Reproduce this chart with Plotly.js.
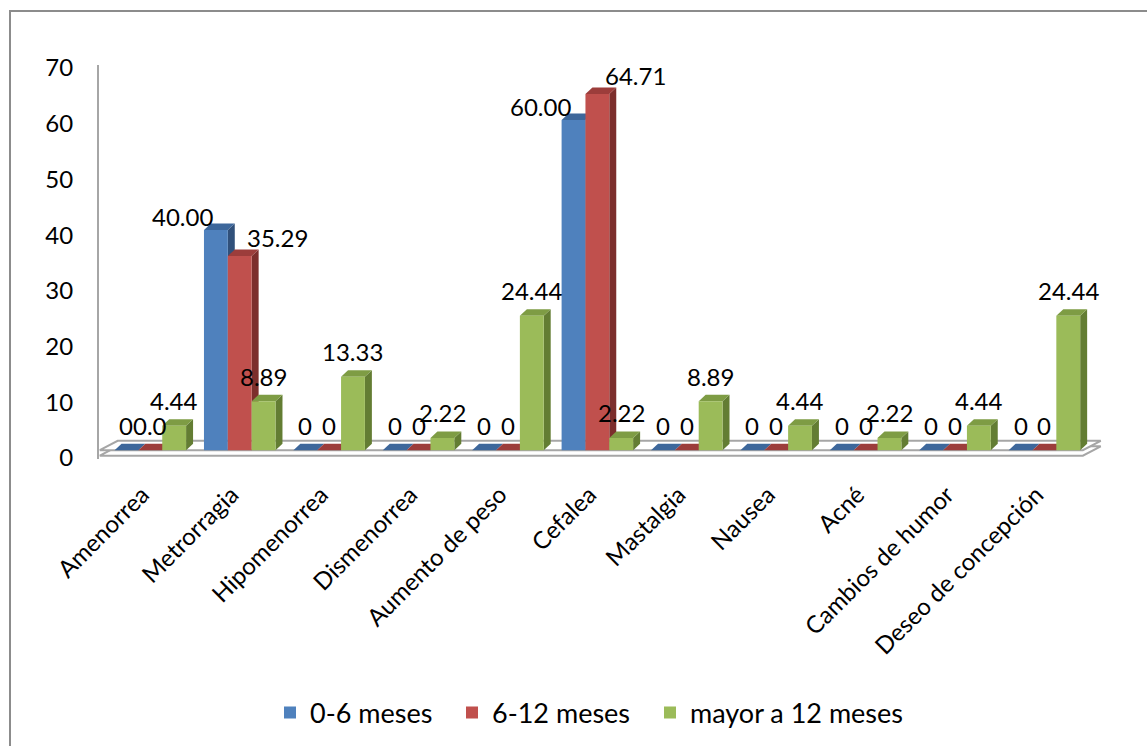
<!DOCTYPE html>
<html>
<head>
<meta charset="utf-8">
<script src="https://cdn.plot.ly/plotly-3.0.1.min.js"></script>
<style>
  html, body { margin: 0; padding: 0; background: #fff; }
  #wrap { position: relative; width: 1147px; height: 746px; overflow: hidden; }
  #chart { width: 1147px; height: 746px; }
  #frame { position: absolute; left: 9px; top: 10px; width: 1200px; height: 800px;
           border-left: 2px solid #8c8c8c; border-top: 2px solid #8c8c8c; pointer-events: none; }
</style>
</head>
<body>
<div id="wrap"><div id="chart"></div><div id="frame"></div></div>
<script>
// ---- data ----
const categories = ['Amenorrea', 'Metrorragia', 'Hipomenorrea', 'Dismenorrea', 'Aumento de peso',
  'Cefalea', 'Mastalgia', 'Nausea', 'Acné', 'Cambios de humor', 'Deseo de concepción'];
const seriesNames = ['0-6 meses', '6-12 meses', 'mayor a 12 meses'];
const meses0a6 = [0, 40.00, 0, 0, 0, 60.00, 0, 0, 0, 0, 0];
const meses6a12 = [0, 35.29, 0, 0, 0, 64.71, 0, 0, 0, 0, 0];
const mayor12 = [4.44, 8.89, 13.33, 2.22, 24.44, 2.22, 8.89, 4.44, 2.22, 4.44, 24.44];
const labels0a6 = ['0', '40.00', '0', '0', '0', '60.00', '0', '0', '0', '0', '0'];
const labels6a12 = ['0.0', '35.29', '0', '0', '0', '64.71', '0', '0', '0', '0', '0'];
const labelsMayor12 = ['4.44', '8.89', '13.33', '2.22', '24.44', '2.22', '8.89', '4.44', '2.22', '4.44', '24.44'];
const yTicks = [0, 10, 20, 30, 40, 50, 60, 70];

// ---- style ----
const frontColors = ['#4f81bd', '#c0504d', '#9bbb59'];
const topColors = ['#3d679b', '#9c3d3b', '#7e9c44'];
const sideColors = ['#30507a', '#7c2e2c', '#637d33'];
const FONT = 'Lato, Calibri, "Open Sans", sans-serif';
const FS = 24;
const bargap = 0.2;
const bw = (1 - bargap) / 3;
const dx = 0.078, dy = 1.18;   // depth of 3D bars (x in categories, y in value units)
const legendIds = ['legend', 'legend2', 'legend3'];
const legendSymbolX = [290, 472, 670];   // px centre of each legend swatch

const series = [meses0a6, meses6a12, mayor12];
const labels = [labels0a6, labels6a12, labelsMayor12];
const xIdx = categories.map((c, i) => i);

const traces = series.map((vals, k) => ({
  type: 'bar', x: xIdx, y: vals, name: seriesNames[k], legend: legendIds[k],
  marker: { color: frontColors[k], line: { width: 0 } },
  hoverinfo: 'skip'
}));
// helper trace to carry the tick-label axis
traces.push({ type: 'scatter', x: [], y: [], yaxis: 'y2', showlegend: false, hoverinfo: 'skip' });

// ---- 3D faces and floor (computed from data through axis coordinates) ----
const shapes = [];
const fl = { x0: -0.565, x1: 10.43, sx: 0.2, back: 1.7, thick: 1.0 };
const floorPath = (yo) =>
  `M${fl.x0},${yo} L${fl.x1},${yo} L${fl.x1 + fl.sx},${yo + fl.back} L${fl.x0 + fl.sx},${yo + fl.back} Z`;
shapes.push({ type: 'path', layer: 'below', xref: 'x', yref: 'y', path: floorPath(-fl.thick),
  fillcolor: '#ffffff', line: { color: '#a6a6a6', width: 2 } });
shapes.push({ type: 'path', layer: 'below', xref: 'x', yref: 'y', path: floorPath(0),
  fillcolor: '#ffffff', line: { color: '#a6a6a6', width: 2 } });

categories.forEach((c, i) => {
  series.forEach((vals, k) => {
    const v = vals[i];
    const xl = i + (k - 1) * bw - bw / 2;
    const xr = xl + bw;
    if (v > 0) {
      shapes.push({ type: 'path', layer: 'below', xref: 'x', yref: 'y',
        path: `M${xr},0 L${xr + dx},${dy} L${xr + dx},${v + dy} L${xr},${v} Z`,
        fillcolor: sideColors[k], line: { width: 0 } });
    }
    shapes.push({ type: 'path', layer: 'below', xref: 'x', yref: 'y',
      path: `M${xl},${v} L${xl + dx},${v + dy} L${xr + dx},${v + dy} L${xr},${v} Z`,
      fillcolor: topColors[k], line: { width: 0 } });
  });
});

// ---- data labels ----
const annotations = [];
categories.forEach((c, i) => {
  series.forEach((vals, k) => {
    const v = vals[i];
    let xshift = 0, yshift = 25;
    if (v >= 30 && k === 0) { xshift = -33; yshift = 14; }
    if (v >= 30 && k === 1) { xshift = 38; yshift = 19; }
    annotations.push({ x: i + (k - 1) * bw, y: v, xref: 'x', yref: 'y', text: labels[k][i],
      showarrow: false, xshift: xshift, yshift: yshift, yanchor: 'middle',
      font: { family: FONT, size: FS, color: '#000000' } });
  });
});

const layout = {
  width: 1147, height: 746,
  margin: { l: 99, r: 40, t: 65, b: 287 },
  paper_bgcolor: '#ffffff', plot_bgcolor: 'rgba(0,0,0,0)',
  font: { family: FONT, size: FS, color: '#000000' },
  barmode: 'group', bargap: bargap, bargroupgap: 0,
  showlegend: true,
  xaxis: {
    range: [-0.574, 10.7], tickmode: 'array', tickvals: xIdx, ticktext: categories,
    tickangle: -45, showline: false, showgrid: false, zeroline: false, ticks: '',
    ticklabelstandoff: 16, ticklabelshift: -8,
    tickfont: { family: FONT, size: FS, color: '#000000' }, fixedrange: true
  },
  yaxis: {
    range: [-1.6, 70], showticklabels: false, showgrid: false, zeroline: false,
    showline: true, linecolor: '#a6a6a6', linewidth: 2, ticks: '', fixedrange: true
  },
  yaxis2: {
    overlaying: 'y', side: 'left', anchor: 'x', range: [-0.18, 70.54],
    tickmode: 'array', tickvals: yTicks, showgrid: false, zeroline: false, showline: false,
    ticks: 'outside', ticklen: 20, tickcolor: 'rgba(0,0,0,0)',
    tickfont: { family: FONT, size: FS, color: '#000000' }, fixedrange: true
  },
  shapes: shapes,
  annotations: annotations
};
legendIds.forEach((id, k) => {
  layout[id] = {
    orientation: 'h', xref: 'container', yref: 'container',
    x: (legendSymbolX[k] - 20) / 1147, xanchor: 'left',
    y: 33 / 746, yanchor: 'middle', font: { family: FONT, size: 27, color: '#000000' },
    bgcolor: 'rgba(0,0,0,0)', borderwidth: 0
  };
});

Plotly.newPlot('chart', traces, layout, { displayModeBar: false, staticPlot: true });
</script>
</body>
</html>
